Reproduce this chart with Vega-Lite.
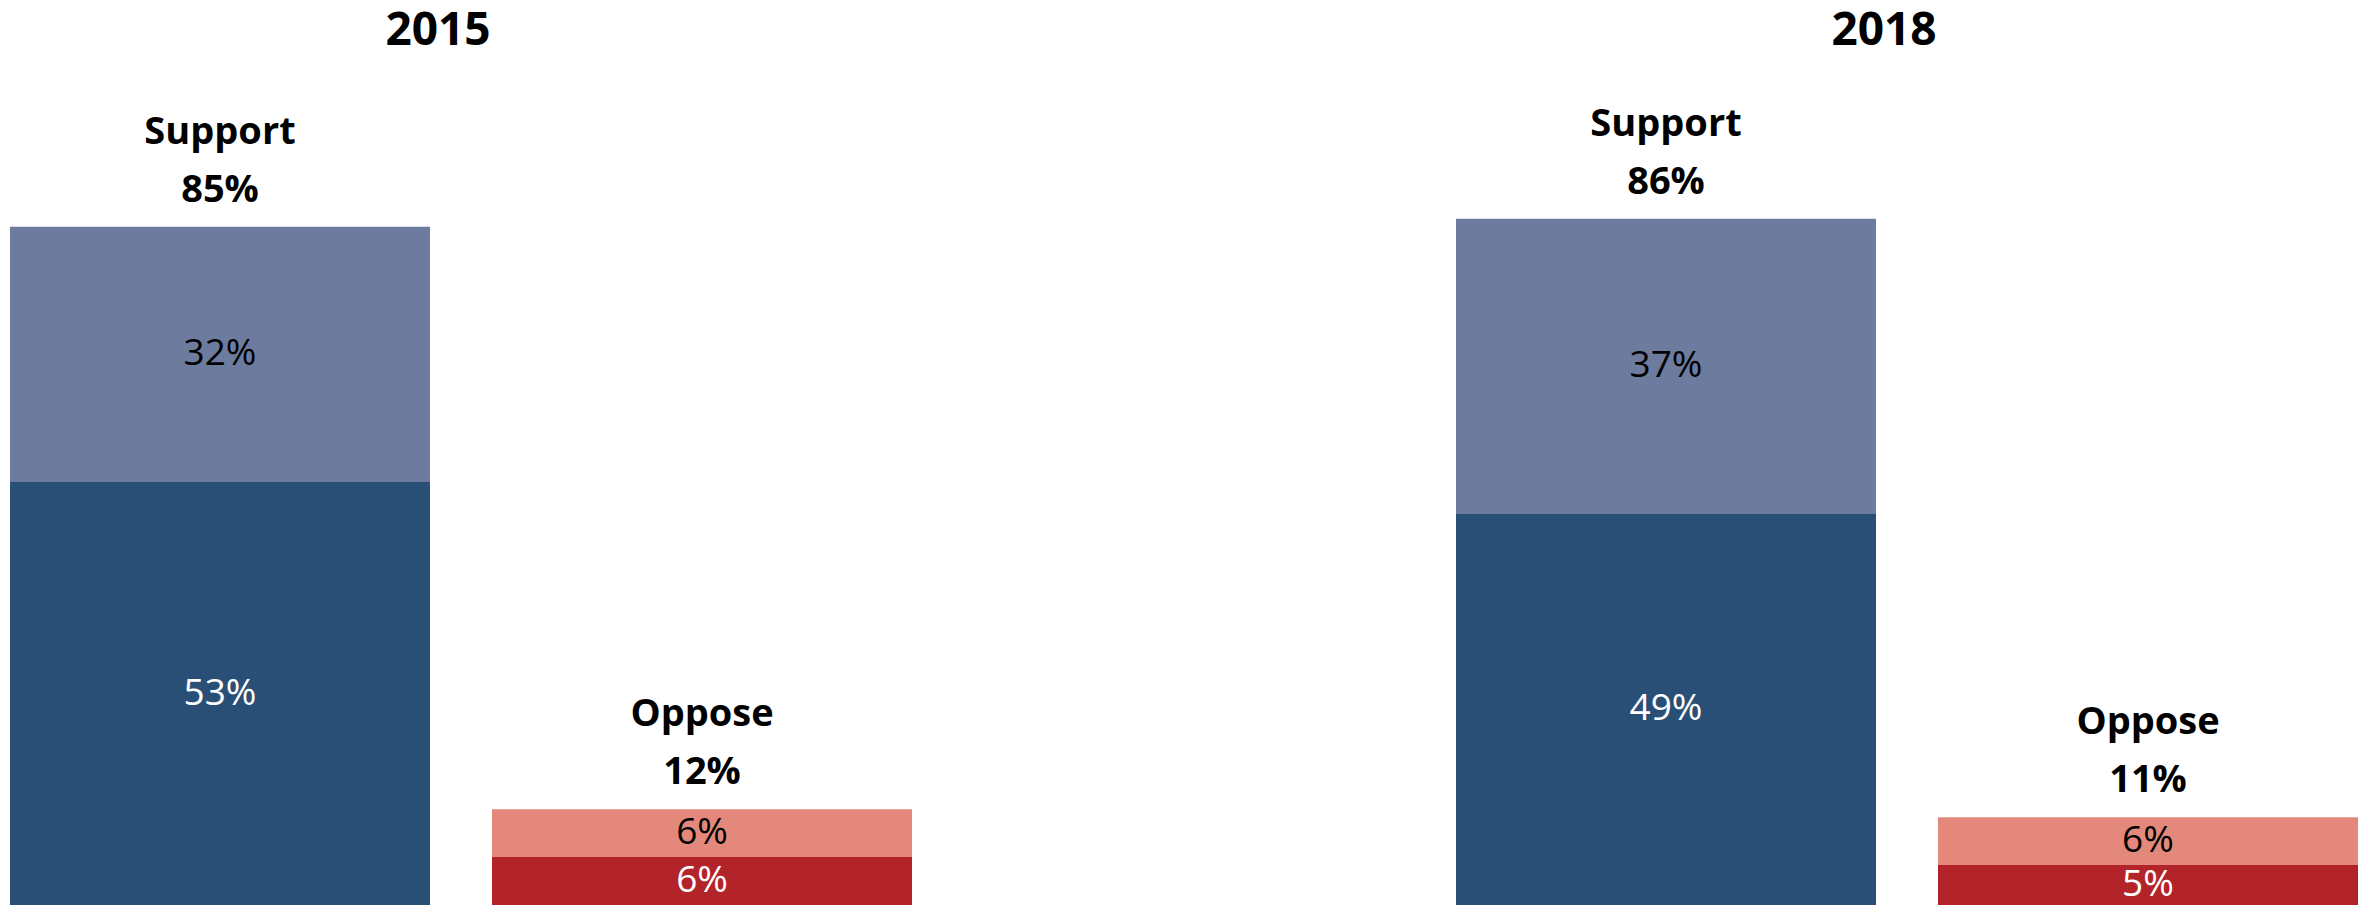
{
  "$schema": "https://vega.github.io/schema/vega-lite/v6.json",
  "width": 2348,
  "height": 798,
  "autosize": {"type": "none"},
  "padding": {"top": 107, "left": 10, "right": 4, "bottom": 0},
  "background": "white",
  "config": {"view": {"stroke": null}, "font": "Open Sans"},
  "data": {
    "values": [
      {"year": "2015", "side": "Support", "intensity": "Strongly", "response": "Strongly support", "value": 0.53},
      {"year": "2015", "side": "Support", "intensity": "Somewhat", "response": "Somewhat support", "value": 0.32},
      {"year": "2015", "side": "Oppose", "intensity": "Strongly", "response": "Strongly oppose", "value": 0.06},
      {"year": "2015", "side": "Oppose", "intensity": "Somewhat", "response": "Somewhat oppose", "value": 0.06},
      {"year": "2018", "side": "Support", "intensity": "Strongly", "response": "Strongly support", "value": 0.49},
      {"year": "2018", "side": "Support", "intensity": "Somewhat", "response": "Somewhat support", "value": 0.37},
      {"year": "2018", "side": "Oppose", "intensity": "Strongly", "response": "Strongly oppose", "value": 0.05},
      {"year": "2018", "side": "Oppose", "intensity": "Somewhat", "response": "Somewhat oppose", "value": 0.06}
    ]
  },
  "encoding": {
    "x": {
      "field": "year",
      "type": "nominal",
      "sort": ["2015", "2018"],
      "scale": {"paddingInner": 0.37621, "paddingOuter": 0},
      "axis": {
        "orient": "top",
        "title": null,
        "domain": false,
        "ticks": false,
        "labelAngle": 0,
        "labelFont": "Open Sans",
        "labelFontSize": 46,
        "labelFontWeight": "bold",
        "labelColor": "black",
        "labelPadding": 63,
        "labelBaseline": "alphabetic",
        "labelOffset": -23
      }
    },
    "xOffset": {
      "field": "side",
      "type": "nominal",
      "sort": ["Support", "Oppose"],
      "scale": {"paddingInner": 0.12863, "paddingOuter": 0}
    }
  },
  "layer": [
    {
      "transform": [
        {"stack": "value", "groupby": ["year", "side"], "sort": [{"field": "intensity", "order": "descending"}], "as": ["v0", "v1"]}
      ],
      "layer": [
        {
          "mark": {"type": "bar"},
          "encoding": {
            "y": {"field": "v0", "type": "quantitative", "scale": {"domain": [0, 1], "nice": false}, "axis": null},
            "y2": {"field": "v1"},
            "color": {
              "field": "response",
              "type": "nominal",
              "scale": {
                "domain": ["Strongly support", "Somewhat support", "Somewhat oppose", "Strongly oppose"],
                "range": ["#294F77", "#6D7C9E", "#E3887A", "#B3242A"]
              },
              "legend": null
            }
          }
        },
        {
          "transform": [
            {"fold": ["v0", "v1"], "as": ["edge", "pos"]},
            {"aggregate": [{"op": "mean", "field": "pos", "as": "mid"}], "groupby": ["year", "side", "intensity", "value"]}
          ],
          "mark": {"type": "text", "fontSize": 37, "baseline": "middle", "align": "center"},
          "encoding": {
            "y": {"field": "mid", "type": "quantitative", "scale": {"domain": [0, 1], "nice": false}, "axis": null},
            "text": {"field": "value", "type": "quantitative", "format": ".0%"},
            "color": {"condition": {"test": "datum.intensity === 'Strongly'", "value": "white"}, "value": "black"}
          }
        }
      ]
    },
    {
      "transform": [
        {"aggregate": [{"op": "sum", "field": "value", "as": "total"}], "groupby": ["year", "side"]}
      ],
      "layer": [
        {
          "mark": {"type": "text", "fontSize": 38, "fontWeight": "bold", "baseline": "alphabetic", "align": "center", "dy": -25, "color": "black"},
          "encoding": {
            "y": {"field": "total", "type": "quantitative", "scale": {"domain": [0, 1], "nice": false}, "axis": null},
            "text": {"field": "total", "type": "quantitative", "format": ".0%"}
          }
        },
        {
          "mark": {"type": "text", "fontSize": 38, "fontWeight": "bold", "baseline": "alphabetic", "align": "center", "dy": -83, "color": "black"},
          "encoding": {
            "y": {"field": "total", "type": "quantitative", "scale": {"domain": [0, 1], "nice": false}, "axis": null},
            "text": {"field": "side", "type": "nominal"}
          }
        }
      ]
    }
  ]
}
